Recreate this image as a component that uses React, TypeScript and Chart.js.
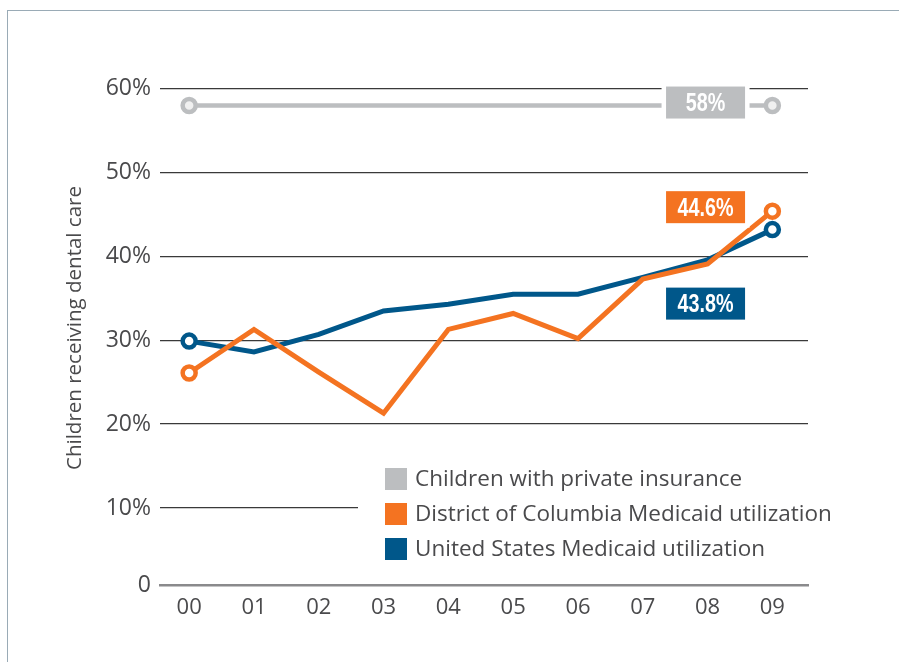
import React, { useEffect, useRef } from "react";
import { Chart, registerables } from "chart.js";

Chart.register(...registerables);

const years = ["00", "01", "02", "03", "04", "05", "06", "07", "08", "09"];
const privateInsurance = [58, 58, 58, 58, 58, 58, 58, 58, 58, 58];
const dcMedicaid = [26.1, 31.3, 26.2, 21.3, 31.3, 33.2, 30.2, 37.3, 39.1, 45.4];
const usMedicaid = [29.9, 28.6, 30.7, 33.5, 34.3, 35.5, 35.5, 37.5, 39.6, 43.2];
const yTickValues = [0, 10, 20, 30, 40, 50, 60];
const seriesNames = [
  "Children with private insurance",
  "District of Columbia Medicaid utilization",
  "United States Medicaid utilization",
];
const endLabels = ["58%", "44.6%", "43.8%"];
const yTitle = "Children receiving dental care";

const GREY = "#bcbec0";
const ORANGE = "#f47321";
const BLUE = "#00578a";
const TEXT = "#4a4a4c";
const FONT = "'Open Sans', Lato, sans-serif";
const BOLD_FONT = "'Liberation Sans', 'DejaVu Sans', sans-serif";

const Y_BASE = 0.81; // value at which the baseline axis sits

const endPoints = (n: number, r: number) =>
  Array.from({ length: n }, (_, i) => (i === 0 || i === n - 1 ? r : 0));

const overlayPlugin = {
  id: "overlay",
  afterDatasetsDraw(chart: any) {
    const { ctx } = chart;
    const xs = chart.scales.x;
    const ys = chart.scales.y;
    ctx.save();

    // Legend box
    ctx.fillStyle = "#ffffff";
    ctx.fillRect(358, 458, 530, 106);
    const rowY = [479, 514, 549];
    chart.data.datasets.forEach((d: any, i: number) => {
      ctx.fillStyle = d.borderColor;
      ctx.fillRect(385, rowY[i] - 11, 22, 22);
      ctx.fillStyle = TEXT;
      ctx.font = `22.5px ${FONT}`;
      ctx.textAlign = "left";
      ctx.textBaseline = "middle";
      ctx.fillText(d.label, 415, rowY[i] + 1);
    });

    // End value labels
    const cx = xs.getPixelForValue(8) - 2;
    const anchors = [
      { text: endLabels[0], color: GREY, y: ys.getPixelForValue(58) - 3 },
      { text: endLabels[1], color: ORANGE, y: ys.getPixelForValue(dcMedicaid[9]) - 4 },
      { text: endLabels[2], color: BLUE, y: ys.getPixelForValue(usMedicaid[9]) + 74 },
    ];
    const w = 79;
    const h = 32;
    anchors.forEach((a) => {
      ctx.fillStyle = "#ffffff";
      ctx.fillRect(cx - w / 2 - 4.5, a.y - h / 2 - 4.5, w + 9, h + 9);
      ctx.fillStyle = a.color;
      ctx.fillRect(cx - w / 2, a.y - h / 2, w, h);
      ctx.save();
      ctx.translate(cx, a.y + 1.5);
      ctx.scale(0.76, 1);
      ctx.fillStyle = "#ffffff";
      ctx.font = `bold 26px ${BOLD_FONT}`;
      ctx.textAlign = "center";
      ctx.textBaseline = "middle";
      ctx.fillText(a.text, 0, 0);
      ctx.restore();
    });

    // Y axis title
    ctx.save();
    ctx.translate(75, 328);
    ctx.rotate(-Math.PI / 2);
    ctx.fillStyle = TEXT;
    ctx.font = `20.5px ${FONT}`;
    ctx.textAlign = "center";
    ctx.textBaseline = "middle";
    ctx.fillText(yTitle, 0, 0);
    ctx.restore();

    ctx.restore();
  },
};

export default function App() {
  const canvasRef = useRef<HTMLCanvasElement | null>(null);

  useEffect(() => {
    if (!canvasRef.current) return;
    const mk = (vals: number[]) => vals.map((v, i) => ({ x: i, y: v }));
    const chart = new Chart(canvasRef.current, {
      type: "line",
      data: {
        datasets: [
          {
            label: seriesNames[0],
            data: mk(privateInsurance),
            borderColor: GREY,
            backgroundColor: "#f0f0f0",
            borderWidth: 4.5,
            pointRadius: endPoints(10, 6.5),
            pointBorderWidth: 4.5,
            pointBackgroundColor: "#f0f0f0",
            pointBorderColor: GREY,
            tension: 0,
          },
          {
            label: seriesNames[1],
            data: mk(dcMedicaid),
            borderColor: ORANGE,
            backgroundColor: "#ffffff",
            borderWidth: 5,
            pointRadius: endPoints(10, 6.5),
            pointBorderWidth: 4.5,
            pointBackgroundColor: "#ffffff",
            pointBorderColor: ORANGE,
            tension: 0,
          },
          {
            label: seriesNames[2],
            data: mk(usMedicaid),
            borderColor: BLUE,
            backgroundColor: "#ffffff",
            borderWidth: 5,
            pointRadius: endPoints(10, 6.5),
            pointBorderWidth: 4.5,
            pointBackgroundColor: "#ffffff",
            pointBorderColor: BLUE,
            tension: 0,
          },
        ],
      },
      options: {
        responsive: false,
        animation: false,
        events: [],
        layout: { padding: { left: 0, top: 72, right: 91, bottom: 0 } },
        plugins: { legend: { display: false }, tooltip: { enabled: false } },
        scales: {
          x: {
            type: "linear",
            min: -0.45,
            max: 9.55,
            afterBuildTicks: (scale: any) => {
              scale.ticks = years.map((_, i) => ({ value: i }));
            },
            afterFit: (scale: any) => {
              scale.height = 662 - 585;
            },
            ticks: {
              callback: (v: any) => years[Math.round(Number(v))],
              color: TEXT,
              font: { family: FONT, size: 22 },
              padding: 10,
              maxRotation: 0,
              autoSkip: false,
            },
            grid: { display: false, drawTicks: false },
            border: { display: true, color: "#8a8a8c", width: 2.5 },
          },
          y: {
            type: "linear",
            min: Y_BASE,
            max: 62,
            afterBuildTicks: (scale: any) => {
              scale.ticks = yTickValues.map((v) => ({ value: v === 0 ? Y_BASE : v }));
            },
            afterFit: (scale: any) => {
              scale.width = 160;
            },
            ticks: {
              callback: (v: any) => (Number(v) < 1 ? "0" : `${v}%`),
              color: TEXT,
              font: { family: FONT, size: 23 },
              padding: 9,
            },
            grid: {
              drawTicks: false,
              color: (c: any) => (c.tick && c.tick.value < 1 ? "rgba(0,0,0,0)" : "#3a3a3a"),
              lineWidth: 1.3,
            },
            border: { display: false },
          },
        },
      },
      plugins: [overlayPlugin],
    });
    return () => chart.destroy();
  }, []);

  return (
    <div style={{ position: "fixed", left: 0, top: 0, width: 899, height: 662, background: "#fff", overflow: "hidden" }}>
      <div
        style={{
          position: "absolute",
          left: 7,
          top: 10,
          width: 1000,
          height: 1000,
          borderLeft: "1.5px solid #9aabb6",
          borderTop: "1.5px solid #9aabb6",
        }}
      />
      <canvas ref={canvasRef} width={899} height={662} style={{ position: "absolute", left: 0, top: 0, display: "block" }} />
    </div>
  );
}
